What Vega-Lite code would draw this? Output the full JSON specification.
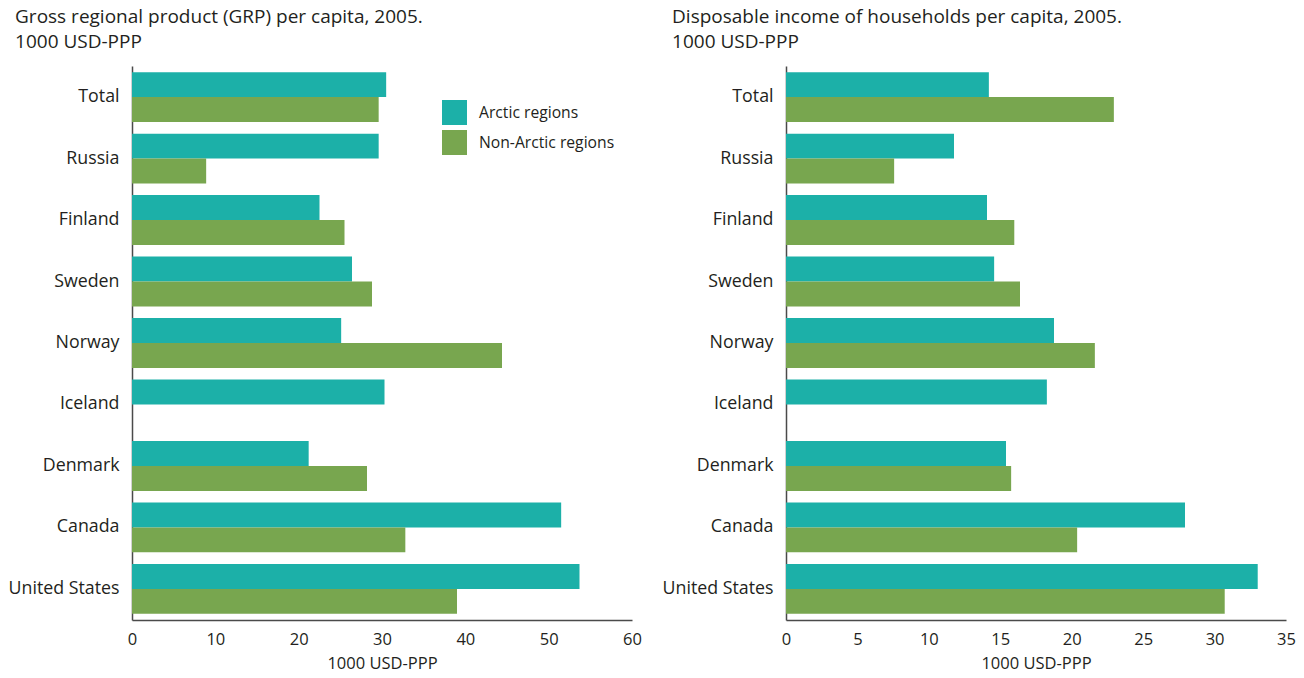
{
  "$schema": "https://vega.github.io/schema/vega-lite/v6.json",
  "padding": {"left": 8, "top": 8, "right": 10, "bottom": 3},
  "background": "white",
  "config": {
    "font": "Open Sans",
    "view": {"stroke": null},
    "concat": {"spacing": 20},
    "axis": {"domainColor": "#4a4a4a", "domainWidth": 1.5, "labelColor": "#231f20", "titleColor": "#231f20", "grid": false, "ticks": false, "labelFont": "Open Sans", "titleFont": "Open Sans", "titleFontWeight": "normal"},
    "title": {"font": "Open Sans", "fontWeight": "normal", "fontSize": 19, "color": "#231f20", "anchor": "start", "frame": "bounds", "lineHeight": 25, "offset": 14, "dx": 7}
  },
  "datasets": {
    "grp": [
      {"country": "Total", "series": "Arctic regions", "value": 30.5},
      {"country": "Total", "series": "Non-Arctic regions", "value": 29.6},
      {"country": "Russia", "series": "Arctic regions", "value": 29.6},
      {"country": "Russia", "series": "Non-Arctic regions", "value": 8.9},
      {"country": "Finland", "series": "Arctic regions", "value": 22.5},
      {"country": "Finland", "series": "Non-Arctic regions", "value": 25.5},
      {"country": "Sweden", "series": "Arctic regions", "value": 26.4},
      {"country": "Sweden", "series": "Non-Arctic regions", "value": 28.8},
      {"country": "Norway", "series": "Arctic regions", "value": 25.1},
      {"country": "Norway", "series": "Non-Arctic regions", "value": 44.4},
      {"country": "Iceland", "series": "Arctic regions", "value": 30.3},
      {"country": "Denmark", "series": "Arctic regions", "value": 21.2},
      {"country": "Denmark", "series": "Non-Arctic regions", "value": 28.2},
      {"country": "Canada", "series": "Arctic regions", "value": 51.5},
      {"country": "Canada", "series": "Non-Arctic regions", "value": 32.8},
      {"country": "United States", "series": "Arctic regions", "value": 53.7},
      {"country": "United States", "series": "Non-Arctic regions", "value": 39.0}
    ],
    "income": [
      {"country": "Total", "series": "Arctic regions", "value": 14.2},
      {"country": "Total", "series": "Non-Arctic regions", "value": 22.95},
      {"country": "Russia", "series": "Arctic regions", "value": 11.76},
      {"country": "Russia", "series": "Non-Arctic regions", "value": 7.57},
      {"country": "Finland", "series": "Arctic regions", "value": 14.07},
      {"country": "Finland", "series": "Non-Arctic regions", "value": 15.98},
      {"country": "Sweden", "series": "Arctic regions", "value": 14.57},
      {"country": "Sweden", "series": "Non-Arctic regions", "value": 16.38},
      {"country": "Norway", "series": "Arctic regions", "value": 18.76},
      {"country": "Norway", "series": "Non-Arctic regions", "value": 21.62},
      {"country": "Iceland", "series": "Arctic regions", "value": 18.26},
      {"country": "Denmark", "series": "Arctic regions", "value": 15.4},
      {"country": "Denmark", "series": "Non-Arctic regions", "value": 15.76},
      {"country": "Canada", "series": "Arctic regions", "value": 27.93},
      {"country": "Canada", "series": "Non-Arctic regions", "value": 20.38},
      {"country": "United States", "series": "Arctic regions", "value": 33.02},
      {"country": "United States", "series": "Non-Arctic regions", "value": 30.71}
    ]
  },
  "hconcat": [
    {
      "width": 500,
      "height": 554,
      "title": {"text": ["Gross regional product (GRP) per capita, 2005.", "1000 USD-PPP"]},
      "data": {"name": "grp"},
      "mark": {"type": "bar"},
      "encoding": {
        "y": {"field": "country", "type": "nominal", "sort": ["Total", "Russia", "Finland", "Sweden", "Norway", "Iceland", "Denmark", "Canada", "United States"], "scale": {"paddingInner": 0.19, "paddingOuter": 0.1}, "axis": {"title": null, "labelFontSize": 17.8, "labelPadding": 13}},
        "yOffset": {"field": "series", "type": "nominal", "scale": {"domain": ["Arctic regions", "Non-Arctic regions"]}},
        "x": {"field": "value", "type": "quantitative", "scale": {"domain": [0, 60], "nice": false}, "axis": {"title": "1000 USD-PPP", "values": [0, 10, 20, 30, 40, 50, 60], "labelFontSize": 16.5, "labelPadding": 11, "titleFontSize": 16.5, "titlePadding": 8, "labelFlush": false}},
        "color": {"field": "series", "type": "nominal", "scale": {"domain": ["Arctic regions", "Non-Arctic regions"], "range": ["#1cb0a8", "#78a64f"]}, "legend": {"title": null, "orient": "none", "legendX": 310, "legendY": 34, "symbolType": "square", "symbolSize": 625, "symbolStrokeWidth": 0, "symbolOpacity": 1, "labelFontSize": 15.7, "labelColor": "#231f20", "labelOffset": 12, "rowPadding": 5}}
      }
    },
    {
      "width": 500,
      "height": 554,
      "title": {"text": ["Disposable income of households per capita, 2005.", "1000 USD-PPP"], "dx": 10},
      "data": {"name": "income"},
      "mark": {"type": "bar"},
      "encoding": {
        "y": {"field": "country", "type": "nominal", "sort": ["Total", "Russia", "Finland", "Sweden", "Norway", "Iceland", "Denmark", "Canada", "United States"], "scale": {"paddingInner": 0.19, "paddingOuter": 0.1}, "axis": {"title": null, "labelFontSize": 17.8, "labelPadding": 13}},
        "yOffset": {"field": "series", "type": "nominal", "scale": {"domain": ["Arctic regions", "Non-Arctic regions"]}},
        "x": {"field": "value", "type": "quantitative", "scale": {"domain": [0, 35], "nice": false}, "axis": {"title": "1000 USD-PPP", "values": [0, 5, 10, 15, 20, 25, 30, 35], "labelFontSize": 16.5, "labelPadding": 11, "titleFontSize": 16.5, "titlePadding": 8, "labelFlush": false}},
        "color": {"field": "series", "type": "nominal", "scale": {"domain": ["Arctic regions", "Non-Arctic regions"], "range": ["#1cb0a8", "#78a64f"]}, "legend": null}
      }
    }
  ],
  "resolve": {"scale": {"x": "independent", "y": "independent", "yOffset": "independent"}}
}
